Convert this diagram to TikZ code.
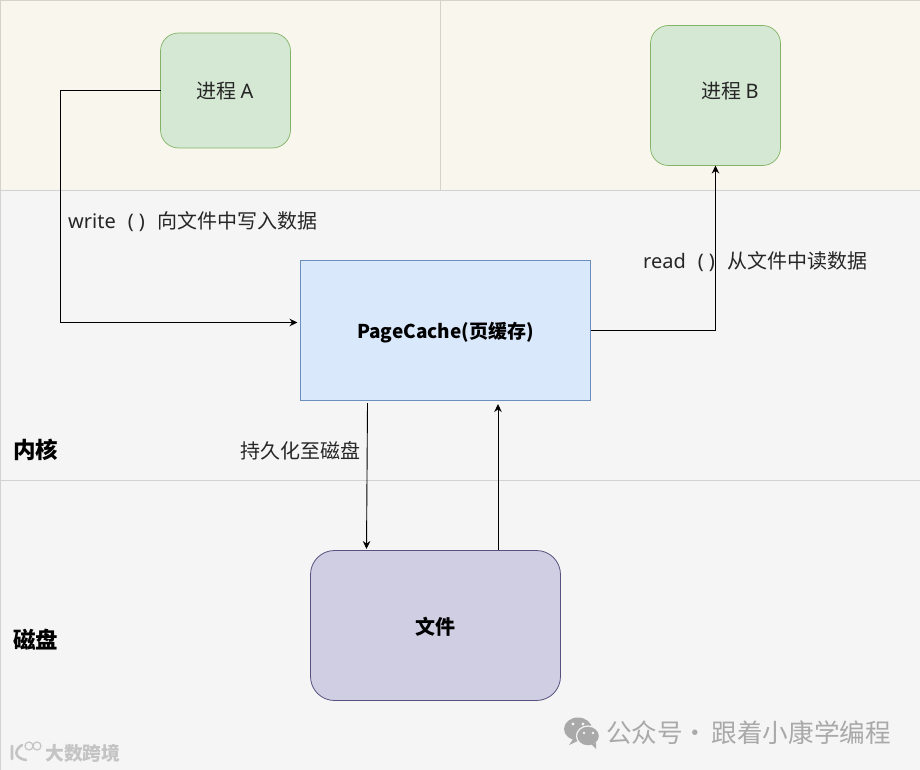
\documentclass[tikz,border=0pt]{standalone}
\usepackage{fontspec}
\setmainfont{Noto Sans CJK SC}
\newfontfamily\latinf{Noto Sans}
\usetikzlibrary{arrows.meta,calc}
\definecolor{zbeige}{HTML}{F9F7ED}
\definecolor{zbeigeL}{HTML}{D5D3C8}
\definecolor{zgrey}{HTML}{F5F5F5}
\definecolor{zgreyL}{HTML}{D2D2D2}
\definecolor{gfill}{HTML}{D5E8D4}
\definecolor{gline}{HTML}{82B366}
\definecolor{bfill}{HTML}{DAE8FC}
\definecolor{bline}{HTML}{6C8EBF}
\definecolor{pfill}{HTML}{D0CEE2}
\definecolor{pline}{HTML}{56517E}
\definecolor{wmgrey}{HTML}{A9A9A9}
\definecolor{wmlight}{HTML}{C4C4C4}
\tikzset{
  x=1pt,y=-1pt,
  zonebeige/.style={draw=zbeigeL,fill=zbeige,line width=.9pt},
  zonegrey/.style={draw=zgreyL,fill=zgrey,line width=.9pt},
  procbox/.style={draw=gline,fill=gfill,rounded corners=18pt,inner sep=0pt,outer sep=0pt,line width=.7pt},
  cachebox/.style={draw=bline,fill=bfill,inner sep=0pt,outer sep=0pt,line width=.8pt},
  filebox/.style={draw=pline,fill=pfill,rounded corners=24pt,inner sep=0pt,outer sep=0pt,line width=.8pt},
  txt/.style={font=\fontsize{20pt}{22pt}\selectfont,text=black!85,inner sep=0pt},
  boldtxt/.style={font=\bfseries\fontsize{20pt}{24pt}\selectfont,text=black,inner sep=0pt},
  zonelabel/.style={font=\bfseries\fontsize{22.5pt}{26pt}\selectfont,text=black,inner sep=0pt},
  conn/.style={draw=black,line width=.9pt,-{Stealth[length=8pt,width=7.5pt]}},
  wmtext/.style={font=\fontsize{25.6pt}{28pt}\selectfont,text=wmgrey,inner sep=0pt},
  wmsmall/.style={font=\bfseries\fontsize{18.8pt}{22pt}\selectfont,text=wmlight,inner sep=0pt},
}
\begin{document}
\begin{tikzpicture}
\useasboundingbox (0,0) rectangle (920,770);
% zones
\fill[zgrey] (0,0) rectangle (920,770);
\draw[zonebeige] (0.5,0.5) rectangle (440,190);
\draw[zonebeige] (440,0.5) rectangle (921,190);
\draw[zonegrey] (0.5,190) rectangle (921,480);
\draw[zonegrey] (0.5,480) rectangle (921,771);
% boxes
\node[procbox,minimum width=130pt,minimum height=115pt] (pa) at (225.5,90.5) {};
\node[procbox,minimum width=130pt,minimum height=140pt] (pb) at (715.5,95.5) {};
\node[cachebox,minimum width=290pt,minimum height=140pt] (pc) at (445.5,330.5) {};
\node[filebox,minimum width=250pt,minimum height=150pt] (file) at (435.5,625.5) {};
% box texts
\node[txt,anchor=base west] (ta) at (196,99) {进程 {\latinf A}};
\node[txt,anchor=base west] (tb) at (701,99) {进程 {\latinf B}};
\node[anchor=center,inner sep=0pt] (tc) at (445.5,332.5) {\bfseries\fontsize{19pt}{22pt}\selectfont PageCache(页缓存)};
\node[boldtxt] (tf) at (435,626.5) {文件};
% labels
\node[txt,anchor=base west] (lw) at (68,228) {{\latinf write\hspace{12pt}(\hspace{5pt})\hspace{13pt}}向文件中写入数据};
\node[txt,anchor=base west] (lr) at (643,268) {{\latinf read\hspace{12pt}(\hspace{5pt})\hspace{13pt}}从文件中读数据};
\node[txt] (lp) at (300,451) {持久化至磁盘};
\node[zonelabel] (zk) at (35.5,450) {内核};
\node[zonelabel] (zd) at (35.5,640) {磁盘};
% connectors
\coordinate (w1) at ($(pc.west)+(-3,-8)$);
\draw[conn] (pa.west) -| (60.5,322.5) -- (w1);
\draw[conn] (pc.east) -| (pb.south);
\coordinate (d1) at (367.5,403);
\coordinate (d2) at (366.5,549);
\draw[conn] (d1) -- (d2);
\coordinate (u1) at (498,550);
\coordinate (u2) at (498,404);
\draw[conn] (u1) -- (u2);
% watermarks
\node[wmtext,anchor=base west] (wm1) at (606,742) {公众号\hspace{-1pt}·\hspace{4pt}跟着小康学编程};
\fill[wmgrey] (578,729) ellipse (14pt and 11.5pt);
\fill[wmgrey] (574,738) -- (569,745) -- (580,740) -- cycle;
\draw[zgrey,fill=wmgrey,line width=1.2pt] (588,736) ellipse (11.5pt and 10pt);
\fill[wmgrey] (591,744) -- (596,749) -- (596,743) -- cycle;
\fill[zgrey] (573,724) circle (1.6pt) (583,724) circle (1.6pt) (584,733) circle (1.4pt) (593,733) circle (1.4pt);
\node[wmsmall,anchor=base west] (wm2) at (45,760) {大数跨境};
\draw[wmlight,line width=2.6pt,line cap=round] (12,746) -- (12,759) (22,745) .. controls (14,750) and (14,758) .. (26,760);
\draw[wmlight,line width=1.2pt] (29,746) circle (4pt) (37,746) circle (4pt);
\end{tikzpicture}
\end{document}
